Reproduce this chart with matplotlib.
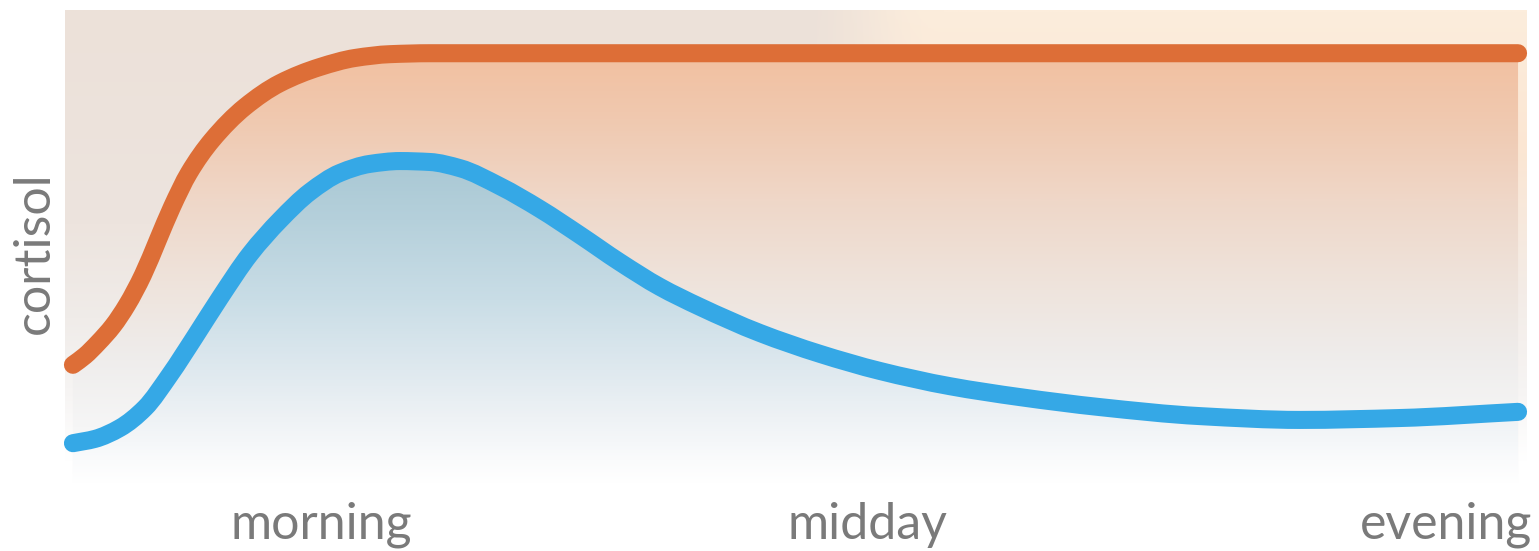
import numpy as np
import matplotlib.pyplot as plt
from matplotlib.colors import LinearSegmentedColormap
from matplotlib.path import Path
from matplotlib.patches import PathPatch

# -----------------------
# DATA (time of day 0..100, cortisol level 0..100)
# -----------------------
stress_time = [0, 0.83, 1.73, 2.77, 3.74, 4.84, 5.88, 6.85, 8.03, 9.62, 11.90, 14.33,
               17.09, 19.52, 21.94, 24.71, 100]
stress_level = [25.3, 27.2, 29.9, 33.5, 37.9, 44.2, 51.6, 58.5, 65.7, 72.6, 79.6, 84.6,
                88.0, 89.9, 90.7, 90.9, 90.9]

normal_time = [0, 1.52, 3.25, 4.98, 6.71, 8.44, 10.17, 12.25, 14.33, 16.40, 18.48, 20.55,
               22.63, 24.71, 26.78, 29.55, 32.32, 35.09, 37.85, 40.62, 43.39, 47.54, 51.70,
               55.85, 60.69, 65.54, 71.07, 78.00, 84.92, 91.83, 100]
normal_level = [8.8, 9.7, 12.0, 16.2, 23.2, 31.2, 39.4, 48.6, 55.8, 61.7, 65.7, 67.6,
                68.2, 68.0, 66.7, 62.9, 58.1, 52.6, 46.9, 41.7, 37.5, 32.0, 27.6,
                24.0, 20.8, 18.5, 16.4, 14.5, 13.7, 14.1, 15.4]

tick_pos = [17.2, 55.0, 95.0]
tick_labels = ["morning", "midday", "evening"]

ORANGE = "#DD6E37"
BLUE = "#35A8E6"
TEXT = "#7A7A7A"


def smooth_path(x, y, close_to=None):
    # piecewise cubic (pchip slopes) drawn as bezier segments through the points
    x = np.asarray(x, float)
    y = np.asarray(y, float)
    h = np.diff(x)
    d = np.diff(y) / h
    m = np.zeros_like(y)
    m[0], m[-1] = d[0], d[-1]
    for k in range(1, len(x) - 1):
        if d[k - 1] * d[k] > 0:
            w1 = 2 * h[k] + h[k - 1]
            w2 = h[k] + 2 * h[k - 1]
            m[k] = (w1 + w2) / (w1 / d[k - 1] + w2 / d[k])
    verts = [(x[0], y[0])]
    codes = [Path.MOVETO]
    for k in range(len(x) - 1):
        verts += [(x[k] + h[k] / 3, y[k] + m[k] * h[k] / 3),
                  (x[k + 1] - h[k] / 3, y[k + 1] - m[k + 1] * h[k] / 3),
                  (x[k + 1], y[k + 1])]
        codes += [Path.CURVE4] * 3
    if close_to is not None:
        verts += [(x[-1], close_to), (x[0], close_to), (x[0], y[0])]
        codes += [Path.LINETO, Path.LINETO, Path.CLOSEPOLY]
    return Path(verts, codes)


def vgrad(stops, n=400):
    cmap = LinearSegmentedColormap.from_list("g", stops)
    return cmap(np.linspace(0, 1, n))[:, None, :]


# -----------------------
# FIGURE
# -----------------------
fig = plt.figure(figsize=(15.39, 5.51), dpi=100)
ax = fig.add_axes([65 / 1539, 66 / 551, 1462 / 1539, 475 / 551])
xmin, xmax = -0.55, 100.62
ax.set_xlim(xmin, xmax)
ax.set_ylim(0, 100)
ext = [xmin, xmax, 0, 100]

# background (beige on the left, lighter warm on the right)
beige = vgrad([(0, "#ECE1D9"), (0.45, "#EDE4DE"), (0.65, "#F0ECE9"),
               (0.8, "#F6F4F3"), (0.95, "#FFFFFF"), (1, "#FFFFFF")])
warm = vgrad([(0, "#FCEDDC"), (0.3, "#FBE6D3"), (0.6, "#F3ECE7"),
              (0.8, "#F6F4F3"), (0.95, "#FFFFFF"), (1, "#FFFFFF")])
cols = np.linspace(0, 1, 500)
w = np.clip((cols - 0.5) / 0.1, 0, 1)
w = (w * w * (3 - 2 * w))[None, :, None]
bg = beige * (1 - w) + warm * w
ax.imshow(bg, extent=ext, aspect="auto", origin="upper", zorder=0)

stress_line = smooth_path(stress_time, stress_level)
normal_line = smooth_path(normal_time, normal_level)

# orange glow under the stress curve
orange_grad = vgrad([(0, "#F3BE9B"), (0.09, "#F2C0A0"), (0.23, "#F0C9B0"), (0.40, "#EFD7C8"),
                     (0.57, "#EEE3DB"), (0.74, "#EFEDEC"), (0.88, "#F6F6F6"),
                     (0.98, "#FFFFFF"), (1, "#FFFFFF")])
im_o = ax.imshow(orange_grad, extent=ext, aspect="auto", origin="upper", zorder=1)
im_o.set_clip_path(smooth_path(stress_time, stress_level, close_to=0), transform=ax.transData)

# blue fill under the normal curve
blue_grad = vgrad([(0, "#A6C6D3"), (0.32, "#A9C8D4"), (0.44, "#B5D0DB"), (0.61, "#C9DDE6"),
                   (0.76, "#DFE9EF"), (0.86, "#EEF2F5"), (0.95, "#FAFBFC"), (1, "#FFFFFF")])
im_b = ax.imshow(blue_grad, extent=ext, aspect="auto", origin="upper", zorder=2)
im_b.set_clip_path(smooth_path(normal_time, normal_level, close_to=0), transform=ax.transData)

# lines
for p, c in [(stress_line, ORANGE), (normal_line, BLUE)]:
    patch = PathPatch(p, facecolor="none", edgecolor=c, lw=13, capstyle="round",
                      joinstyle="round", zorder=4, clip_on=False)
    ax.add_patch(patch)

# -----------------------
# AXES / LABELS
# -----------------------
for s in ax.spines.values():
    s.set_visible(False)
ax.set_yticks([])
ax.set_xticks(tick_pos, tick_labels)
ax.tick_params(axis="x", length=0, pad=12, labelsize=36, labelcolor=TEXT)
for lab in ax.get_xticklabels():
    lab.set_family("Lato")

ax.set_ylabel("cortisol", fontsize=36, color=TEXT, family="Lato")
ax.yaxis.set_label_coords(-0.005, 0.49)

plt.savefig("out.png", dpi=100)
